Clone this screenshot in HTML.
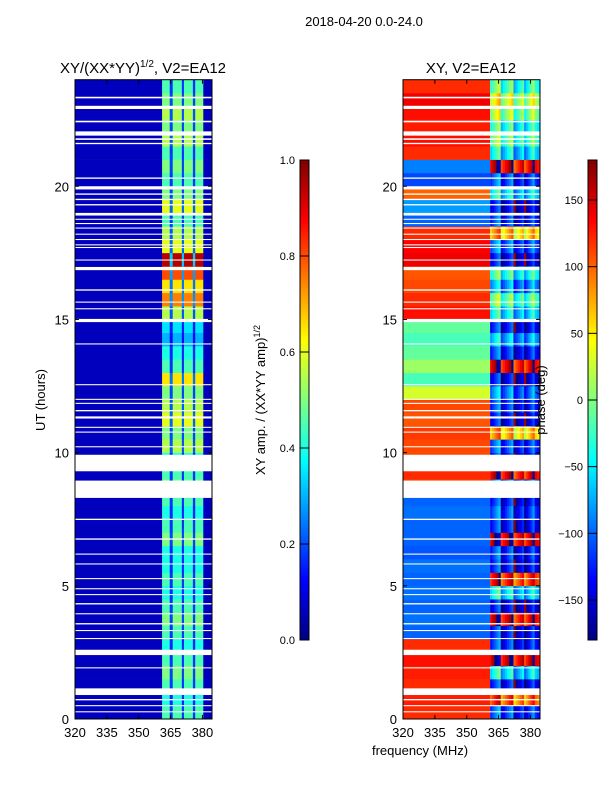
<!DOCTYPE html>
<html><head><meta charset="utf-8"><style>
body{margin:0;background:#fff;width:600px;height:800px;overflow:hidden;font-family:"Liberation Sans",sans-serif}
svg{display:block}
text{font-family:"Liberation Sans",sans-serif;fill:#000}
</style></head><body>
<svg id="fig" width="600" height="800">
<text x="364" y="26" font-size="13" text-anchor="middle">2018-04-20 0.0-24.0</text>
<text x="143" y="73" font-size="15" text-anchor="middle">XY/(XX*YY)<tspan font-size="10" dy="-6">1/2</tspan><tspan dy="6">, V2=EA12</tspan></text>
<text x="471" y="73" font-size="15" text-anchor="middle">XY, V2=EA12</text>
<text x="420" y="755" font-size="13" text-anchor="middle">frequency (MHz)</text>
<text transform="translate(45,400) rotate(-90)" font-size="13" text-anchor="middle">UT (hours)</text>
<text transform="translate(265,400) rotate(-90)" font-size="13" text-anchor="middle">XY amp. / (XX*YY amp)<tspan font-size="9" dy="-5">1/2</tspan></text>
<g id="left"></g>
<g id="right"></g>
<g id="cb"></g>
<text transform="translate(545,400) rotate(-90)" font-size="13" text-anchor="middle">phase (deg)</text>
</svg>
<script>
// ---- data ----
const xTicks=[320,335,350,365,380];
const yTicks=[0,5,10,15,20];
const cb1Ticks=[0,0.2,0.4,0.6,0.8,1.0];
const cb1Labels=["0.0","0.2","0.4","0.6","0.8","1.0"];
const cb2Ticks=[-150,-100,-50,0,50,100,150];
// strip mask segments across frequency [startMHz,endMHz,mask]
const stripSegments=[[320,361,0],[361,364.6,1],[364.6,366,0.3],[366,370.3,1],[370.3,371.3,0.3],[371.3,375.5,1],[375.5,376.6,0.3],[376.6,380.4,1],[380.4,384.5,0]];
// left amplitude of bright strips, one value per half-hour row (0h upward)
const stripAmp=[0.45,0.4,0.45,0.5,0.45,0.4,0.45,0.5,0.45,0.4,0.45,0.4,0.4,0.5,0.45,0.4,0.45,0.5,0.45,0.4,0.55,0.5,0.6,0.55,0.5,0.65,0.45,0.4,0.3,0.35,0.55,0.75,0.65,0.8,0.95,0.6,0.55,0.45,0.6,0.5,0.45,0.5,0.45,0.55,0.5,0.55,0.5,0.45];
const darkAmp=0.06;
// right panel phases (deg) per half-hour row: low-frequency region and high-frequency region
const phaseLow=[120,125,120,125,130,120,-100,-95,-100,-95,-100,-95,-105,-100,-100,-95,-100,110,120,110,110,115,105,110,30,-20,10,-10,-20,-10,130,120,110,105,140,135,120,-100,-80,100,-110,-90,120,130,125,130,140,120];
const phaseHigh=[-120,100,-140,-60,150,-130,-140,140,-150,-60,120,-140,-130,150,-140,-120,-140,-100,140,-140,-120,60,-150,-130,-100,-150,140,-130,-80,-140,-60,-20,-90,-40,-150,-110,60,-130,-150,-60,-120,140,-60,-20,-40,0,20,-30];
// column phase offsets across high-frequency part (1 MHz columns starting 361)
const phaseColOffset=[0,15,30,45,60,-30,-15,0,15,30,45,-45,-30,-15,0,15,-40,-20,0,20,40,0,-10,-20];
// white gaps (hours) [start,end]
const gaps=[[23.3,23.36],[22.9,23.02],[22.4,22.46],[21.9,22.06],[21.74,21.8],[21.58,21.63],[20.28,20.33],[19.88,20.0],[19.68,19.73],[19.48,19.53],[19.28,19.33],[18.9,19.0],[18.74,18.78],[18.58,18.62],[18.41,18.45],[18.18,18.22],[17.98,18.02],[17.78,17.82],[17.68,17.72],[17.21,17.25],[16.85,16.97],[16.08,16.13],[15.63,15.67],[15.38,15.42],[14.9,15.02],[14.06,14.1],[12.53,12.57],[11.98,12.02],[11.83,11.87],[11.55,11.6],[11.28,11.36],[10.93,10.97],[10.75,10.79],[10.2,10.24],[9.3,9.92],[8.3,8.95],[7.47,7.52],[6.73,6.78],[6.17,6.21],[5.8,5.84],[5.25,5.29],[4.87,4.91],[4.65,4.69],[4.3,4.35],[3.93,3.97],[3.55,3.6],[3.3,3.34],[3.0,3.04],[2.4,2.6],[1.9,1.94],[0.9,1.15],[0.7,0.75],[0.48,0.52],[0.25,0.29]];
// ---- scales ----
const Y0=719,Y1=79.7,T0=0,T1=24;
const yS=t=>Y0-(t-T0)/(T1-T0)*(Y0-Y1);
const panels=[{x0:75,id:'left'},{x0:403,id:'right'}];
const FMIN=320,FMAX=384.5,PW=137;
const xS=(p,f)=>p.x0+(f-FMIN)/(FMAX-FMIN)*PW;
function jet(v){v=Math.max(0,Math.min(1,v));
 const r=Math.max(0,Math.min(1,1.5-Math.abs(4*v-3))),g=Math.max(0,Math.min(1,1.5-Math.abs(4*v-2))),b=Math.max(0,Math.min(1,1.5-Math.abs(4*v-1)));
 return `rgb(${Math.round(r*255)},${Math.round(g*255)},${Math.round(b*255)})`;}
const NS='http://www.w3.org/2000/svg';
function mk(tag,attrs,parent){const e=document.createElementNS(NS,tag);for(const k in attrs)e.setAttribute(k,attrs[k]);parent.appendChild(e);return e;}
const wrap=a=>{a=((a+180)%360+360)%360-180;return a;};
// left
const L=document.getElementById('left');
stripAmp.forEach((amp,r)=>{
 stripSegments.forEach(s=>{
  const v=darkAmp+s[2]*(amp-darkAmp);
  const x=xS(panels[0],s[0]),w=xS(panels[0],s[1])-x;
  const e=mk('rect',{x:x,y:yS((r+1)*0.5),width:w+0.3,height:yS(r*0.5)-yS((r+1)*0.5)+0.3,fill:jet(v)},L);
  
  
 });
});
// right
const R=document.getElementById('right');
phaseLow.forEach((ph,r)=>{
 const yt=yS((r+1)*0.5),h=yS(r*0.5)-yt+0.3;
 const xa=xS(panels[1],320),xb=xS(panels[1],361);
 const e=mk('rect',{x:xa,y:yt,width:xb-xa,height:h,fill:jet((ph+180)/360)},R);
 
 
 phaseColOffset.forEach((off,c)=>{
  const f=361+c;if(f>=384.5)return;
  const x=xS(panels[1],f),w=xS(panels[1],Math.min(f+1,384.5))-x;
  const e2=mk('rect',{x:x,y:yt,width:w+0.3,height:h,fill:jet((wrap(phaseHigh[r]+off)+180)/360)},R);
  
  
 });
});
// gaps, frames, ticks
const svg=document.getElementById('fig');
panels.forEach(p=>{
 const g=document.getElementById(p.id);
 gaps.forEach(gp=>{
  const e=mk('rect',{x:p.x0,y:yS(gp[1]),width:PW,height:yS(gp[0])-yS(gp[1]),fill:'#fff'},g);
  
  
 });
 const fr=mk('rect',{x:p.x0,y:Y1,width:PW,height:Y0-Y1,fill:'none',stroke:'#000','stroke-width':1},svg);
 
 
 xTicks.forEach(t=>{const x=xS(p,t);
  mk('line',{x1:x,x2:x,y1:Y0,y2:Y0-4,stroke:'#000'},svg);mk('line',{x1:x,x2:x,y1:Y1,y2:Y1+4,stroke:'#000'},svg);
  const tx=mk('text',{x:x,y:Y0+18,'font-size':13,'text-anchor':'middle'},svg);tx.textContent=t;
  
  });
 yTicks.forEach(t=>{const y=yS(t);
  mk('line',{x1:p.x0,x2:p.x0+4,y1:y,y2:y,stroke:'#000'},svg);mk('line',{x1:p.x0+PW,x2:p.x0+PW-4,y1:y,y2:y,stroke:'#000'},svg);
  const tx=mk('text',{x:p.x0-6,y:y+5,'font-size':13,'text-anchor':'end'},svg);tx.textContent=t;
  
  });
});
// colorbars
const CB=document.getElementById('cb');
const cbTop=160,cbBot=640;
function colorbar(x,vmin,vmax,ticks,labels,name){
 for(let i=0;i<120;i++){const y=cbBot-(i+1)*(cbBot-cbTop)/120;
  mk('rect',{x:x,y:y,width:9,height:(cbBot-cbTop)/120+0.5,fill:jet((i+0.5)/120)},CB);}
 const f=mk('rect',{x:x,y:cbTop,width:9,height:cbBot-cbTop,fill:'none',stroke:'#000'},CB);
 
 
 ticks.forEach((t,i)=>{const y=cbBot-(t-vmin)/(vmax-vmin)*(cbBot-cbTop);
  mk('line',{x1:x,x2:x+9,y1:y,y2:y,stroke:'#000'},CB);
  const tx=mk('text',{x:x-5,y:y+4,'font-size':11,'text-anchor':'end'},CB);tx.textContent=labels?labels[i]:String(t).replace('-','\u2212');
  
  });
}
colorbar(300,0,1,cb1Ticks,cb1Labels,'amplitude-colorbar');
colorbar(588,-180,180,cb2Ticks,null,'phase-colorbar');
</script>
</body></html>
